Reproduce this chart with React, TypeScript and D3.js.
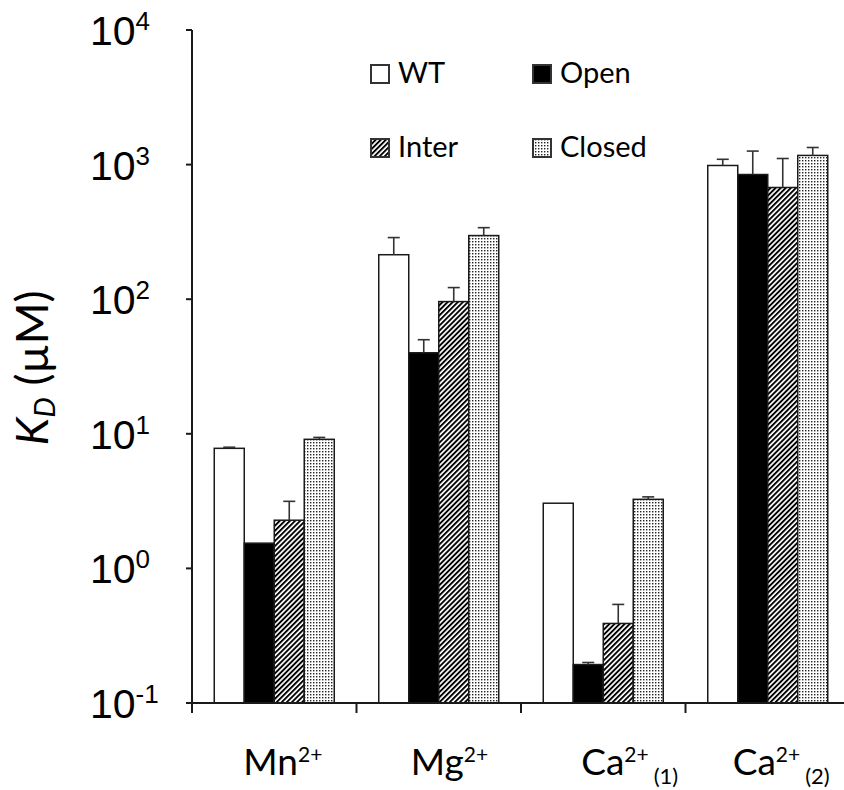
import React from "react";
import * as d3 from "d3";

const categories = ["Mn", "Mg", "Ca(1)", "Ca(2)"];
const labelMain = ["Mn", "Mg", "Ca", "Ca"];
const labelSup = ["2+", "2+", "2+", "2+"];
const labelSub = ["", "", "(1)", "(2)"];
const seriesNames = ["WT", "Open", "Inter", "Closed"];
const wtValues = [7.8, 214, 3.05, 985];
const openValues = [1.54, 40, 0.193, 844];
const interValues = [2.28, 96, 0.39, 676];
const closedValues = [9.1, 297, 3.26, 1170];
const wtErrTop = [7.95, 287, 3.05, 1095];
const openErrTop = [1.54, 50, 0.2, 1260];
const interErrTop = [3.15, 122, 0.54, 1110];
const closedErrTop = [9.4, 340, 3.4, 1340];
const yDomain = [0.1, 10000];

const W = 844;
const H = 790;
const AX = 192;
const TOP = 30;
const BOTTOM = 703;
const CAT_W = 164.5;

const seriesValues = [wtValues, openValues, interValues, closedValues];
const seriesErr = [wtErrTop, openErrTop, interErrTop, closedErrTop];
const seriesFill = ["#ffffff", "#000000", "url(#stripes)", "url(#dots)"];
const labelStartShift = [-31, -28, -22, -35];

export default function App() {
  const y = d3.scaleLog().domain(yDomain).range([BOTTOM, TOP]);
  const x0 = d3
    .scaleBand<string>()
    .domain(categories)
    .range([AX, AX + categories.length * CAT_W])
    .padding(0);
  const x1 = d3
    .scaleBand<string>()
    .domain(seriesNames)
    .range([0, x0.bandwidth()])
    .paddingInner(0)
    .paddingOuter(0.742);

  const decadeTicks = y
    .ticks()
    .filter((t) => Math.abs(Math.log10(t) - Math.round(Math.log10(t))) < 1e-9);

  const boundaries = categories.map((c) => x0(c) as number);

  const legendPos = [
    { bx: 371, by: 65 },
    { bx: 533, by: 65 },
    { bx: 371, by: 139 },
    { bx: 533, by: 139 },
  ];

  return (
    <svg
      width={W}
      height={H}
      style={{ position: "absolute", left: 0, top: 0, background: "#fff" }}
    >
      <defs>
        <pattern
          id="stripes"
          patternUnits="userSpaceOnUse"
          width={3.6}
          height={3.6}
          patternTransform="rotate(45)"
        >
          <rect width={3.6} height={3.6} fill="#fff" />
          <rect x={0} y={0} width={1.9} height={3.6} fill="#000" />
        </pattern>
        <pattern id="dots" patternUnits="userSpaceOnUse" width={3} height={3}>
          <rect width={3} height={3} fill="#fff" />
          <rect x={1} y={1} width={1.4} height={1.4} fill="#222" />
        </pattern>
      </defs>

      {/* bars */}
      {categories.map((c, ci) =>
        seriesNames.map((s, si) => {
          const v = seriesValues[si][ci];
          const bx = (x0(c) as number) + (x1(s) as number);
          const bw = x1.bandwidth();
          return (
            <rect
              key={c + s}
              x={bx}
              y={y(v)}
              width={bw}
              height={BOTTOM - y(v)}
              fill={seriesFill[si]}
              stroke="#1a1a1a"
              strokeWidth={1.5}
            />
          );
        })
      )}

      {/* error bars */}
      {categories.map((c, ci) =>
        seriesNames.map((s, si) => {
          const v = seriesValues[si][ci];
          const e = seriesErr[si][ci];
          if (!(e > v)) return null;
          const cx = (x0(c) as number) + (x1(s) as number) + x1.bandwidth() / 2;
          return (
            <g key={"e" + c + s} stroke="#333" strokeWidth={1.6}>
              <line x1={cx} x2={cx} y1={y(v)} y2={y(e)} />
              <line x1={cx - 6} x2={cx + 6} y1={y(e)} y2={y(e)} />
            </g>
          );
        })
      )}

      {/* y axis */}
      <line x1={AX} x2={AX} y1={TOP} y2={BOTTOM + 9} stroke="#1a1a1a" strokeWidth={2} />
      {decadeTicks.map((t) => {
        const exp = Math.round(Math.log10(t));
        const ty = y(t);
        return (
          <g key={"yt" + exp}>
            <line x1={AX - 6} x2={AX} y1={ty} y2={ty} stroke="#1a1a1a" strokeWidth={2} />
            <text
              x={90}
              y={ty + 15}
              fontFamily="'Liberation Sans', Arial, sans-serif"
              fontSize={41}
              fill="#000"
            >
              10
              <tspan dy={-15} fontSize={26}>
                {exp < 0 ? "-" + Math.abs(exp) : String(exp)}
              </tspan>
            </text>
          </g>
        );
      })}

      {/* x axis */}
      <line x1={AX - 6} x2={W} y1={BOTTOM} y2={BOTTOM} stroke="#1a1a1a" strokeWidth={2} />
      {boundaries.map((bx, i) => (
        <line
          key={"xt" + i}
          x1={bx}
          x2={bx}
          y1={BOTTOM}
          y2={BOTTOM + 10}
          stroke="#1a1a1a"
          strokeWidth={2}
        />
      ))}

      {/* x labels */}
      {categories.map((c, ci) => {
        const cx = (x0(c) as number) + x0.bandwidth() / 2;
        return (
          <text
            key={"xl" + c}
            x={cx + labelStartShift[ci]}
            y={775}
            fontFamily="Lato, 'Open Sans', sans-serif"
            fontSize={37}
            fill="#000"
          >
            {labelMain[ci]}
            <tspan dy={-13} fontSize={21}>
              {labelSup[ci]}
            </tspan>
            {labelSub[ci] ? (
              <tspan dx={5} dy={22} fontSize={22}>
                {labelSub[ci]}
              </tspan>
            ) : null}
          </text>
        );
      })}

      {/* y label */}
      <text
        transform="translate(48,368) rotate(-90)"
        textAnchor="middle"
        fontFamily="Lato, 'Open Sans', sans-serif"
        fontSize={45}
        fill="#000"
      >
        <tspan fontStyle="italic">K</tspan>
        <tspan fontStyle="italic" fontSize={29} dy={7}>
          D
        </tspan>
        <tspan dy={-7}> (µM)</tspan>
      </text>

      {/* legend */}
      {seriesNames.map((s, si) => {
        const p = legendPos[si];
        return (
          <g key={"lg" + s}>
            <rect
              x={p.bx}
              y={p.by}
              width={18}
              height={18}
              fill={seriesFill[si]}
              stroke="#333"
              strokeWidth={2}
            />
            <text
              x={p.bx + 27}
              y={p.by + 18}
              fontFamily="Lato, 'Open Sans', sans-serif"
              fontSize={29}
              fill="#000"
            >
              {s}
            </text>
          </g>
        );
      })}
    </svg>
  );
}
